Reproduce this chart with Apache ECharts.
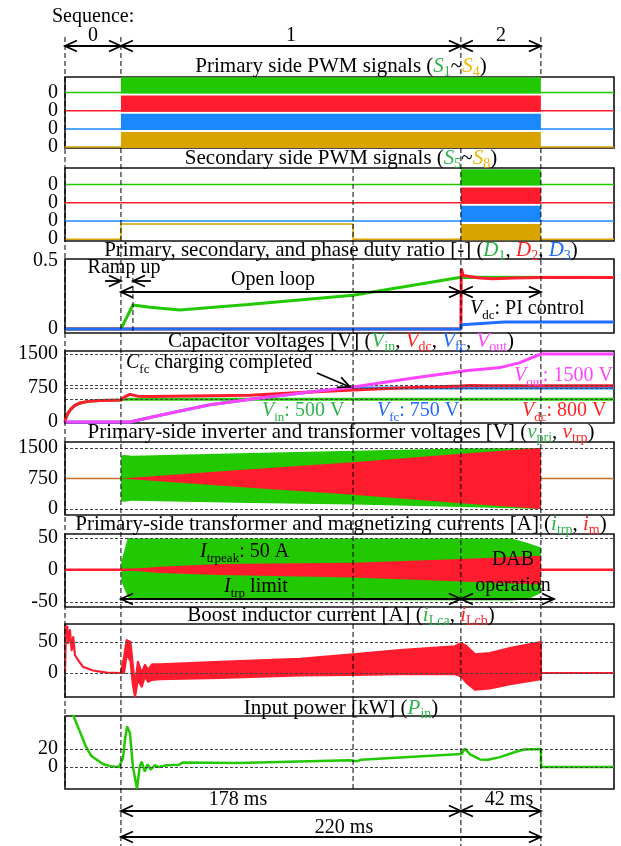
<!DOCTYPE html>
<html><head><meta charset="utf-8">
<script src="https://cdn.jsdelivr.net/npm/echarts@6/dist/echarts.min.js"></script>
<style>html,body{margin:0;padding:0;background:#fff}#c{width:621px;height:846px}</style>
</head><body><div id="c"></div>
<script>
// ---------------- time marks (ms) ----------------
const T_END = 287.6, T1 = 29.3, TC = 150.9, T2 = 207.4, T3 = 249.3;

// ---------------- panel 1 & 2 : PWM signals ----------------
const pwmLevels = [3, 2, 1, 0];          // zero lines of S1..S4 (and S5..S8)
const pwmHigh = 0.83;
const priOn = [T1, T3];
const secOn = [T2, T3];
const s8Time = [0, T1, T1, TC, TC, T_END];
const s8Val  = [0, 0, 0.83, 0.83, 0, 0];

// ---------------- panel 3 : duty ratios ----------------
const d1Time = [0, 29.3, 35.6, 44.5, 60.2, 95.9, 150.9, 207.4, 287.6];
const d1Val  = [0, 0, 0.174, 0.158, 0.138, 0.178, 0.246, 0.377, 0.375];
const d2Time = [0, 207.4, 207.6, 208.6, 212, 217.4, 224, 235, 249.3, 287.6];
const d2Val  = [0, 0, 0.44, 0.39, 0.383, 0.372, 0.366, 0.372, 0.375, 0.375];
const d3Time = [0, 207.4, 207.6, 212, 220, 230, 287.6];
const d3Val  = [0, 0, 0.03, 0.034, 0.042, 0.05, 0.05];

// ---------------- panel 4 : capacitor voltages ----------------
const vinTime = [0, 0.5, 1.5, 3, 5, 8, 12, 18.3, 24, 29.3, 31, 287.6];
const vinVal  = [0, 90, 190, 280, 360, 420, 455, 475, 482, 485, 500, 500];
const vdcTime = [0, 0.5, 1.5, 3, 5, 8, 12, 18.3, 24, 29.3, 31.5, 34, 38, 45, 96.9, 123.1, 150.9, 175.5, 207.4, 212, 220, 287.6];
const vdcVal  = [0, 90, 190, 280, 360, 420, 455, 475, 482, 485, 560, 610, 570, 560, 590, 650, 705, 750, 795, 805, 800, 800];
const vfcTime = [0, 34, 49.8, 75.9, 102.1, 128.3, 149.3, 152, 287.6];
const vfcVal  = [0, 0, 150, 380, 530, 660, 745, 752, 752];
const voutTime = [0, 34, 49.8, 75.9, 102.1, 128.3, 149.3, 180.7, 212.2, 217.4, 227.9, 238.3, 249.3, 287.6];
const voutVal  = [0, 0, 150, 380, 530, 660, 760, 960, 1140, 1160, 1200, 1310, 1500, 1500];

// ---------------- panel 5 : inverter / transformer voltages (envelopes) ----------------
const idleTime = [0, 287.6];
const idleVal  = [750, 750];
const vpriTime = [29.3, 29.4, 31, 35, 96.9, 150.9, 207.4, 249.3, 249.35];
const vpriLo   = [750, 190, 175, 200, 150, 110, 50, 0, 750];
const vpriHi   = [750, 1310, 1330, 1310, 1380, 1430, 1490, 1500, 750];
const vtrpTime = [29.3, 96.9, 150.9, 207.4, 249.3, 249.35];
const vtrpLo   = [750, 520, 350, 143, 0, 750];
const vtrpHi   = [750, 980, 1150, 1357, 1500, 750];

// ---------------- panel 6 : transformer / magnetizing currents (envelopes) ----------------
const itrpTime = [29.5, 32.9, 35.0, 234.0, 242.5, 249.3, 249.35];
const itrpLo   = [-18, -42, -47, -48, -46, -36, 0];
const itrpHi   = [13, 50, 49, 49, 42, 35, 0];
const imTime = [29.5, 49.8, 81.2, 150.9, 207.4, 249.3, 249.35];
const imLo   = [0, -5, -8, -12, -18, -23, 0];
const imHi   = [0, 5, 9, 11, 17, 22, 0];
const imZeroTime = [0, 287.6];
const imZeroVal  = [0, 0];

// ---------------- panel 7 : boost inductor current (envelope) ----------------
const iLTime = [0, 0.5, 1.2, 1.7, 2.6, 3.5, 4.3, 5.2, 6.8, 9.4, 14.7, 21.8, 29.3,
  30.9, 32.3, 34.3, 35.6, 36.7, 38.2, 40.2, 41.9, 43.5, 45.6, 49.8, 81.2, 123.1,
  150.9, 175.5, 204.3, 207.4, 210.1, 214.8, 222.6, 233.1, 249.3, 249.35, 287.6];
const iLLo = [0, 75, 75, 48, 69, 37, 58, 29, 21, 10, 4, 0.5, 0,
  0, 30, 20, -20, -38, -10, -22, -5, -14, -11, -10, -8, -4,
  -3, -2, -2, -5, -15, -27, -25, -18, -10, 0, 0];
const iLHi = [0, 75, 75, 48, 69, 37, 58, 29, 21, 10, 4, 0.5, 0,
  25, 53, 50, 10, -20, 18, 0, 13, 5, 14, 14, 18, 23,
  30, 37, 43, 48, 44, 30, 32, 40, 50, 0, 0];

// ---------------- panel 8 : input power ----------------
const pinTime = [0, 3.4, 7.5, 10.6, 13.8, 19.9, 23.6, 28.3, 29.3, 30.4, 31.4, 32.5, 34.0, 35.6, 37.7, 39.1,
  40.2, 41.8, 43.3, 44.9, 47.0, 49.1, 53.3, 59.5, 61.6, 62.6, 90.6, 149.3, 153.0, 155.0, 207.7, 209.5,
  212.2, 217.4, 221.6, 227.9, 236.2, 240.4, 249.3, 249.4, 287.6];
const pinVal = [90, 62, 41, 24.4, 12.2, 3.3, 1, 0, 0, 10, 30, 45, 38, 0, -24, 0,
  6, -5, 3, -3, 2, 0, 2, 2.5, 5, 3, 4.5, 7.5, 6.5, 8, 14.5, 20.5,
  14, 8.5, 8, 11, 17, 19.5, 20, 0, 0];

// ---------------- tick labels per panel ----------------
const tickP1 = [0, 1, 2, 3];
const tickP2 = [0, 1, 2, 3];
const tickP3 = [0, 0.5];
const tickP4 = [0, 750, 1500];
const tickP5 = [0, 750, 1500];
const tickP6 = [-50, 0, 50];
const tickP7 = [0, 50];
const tickP8 = [0, 20];

// ---------------- annotation geometry (x in ms, y in page px) ----------------
const arrowSegs = [
  [0, 46, T1, 46, 1, 1], [T1, 46, T2, 46, 1, 1], [T2, 46, T3, 46, 1, 1],
  [21.0, 281, T1, 281, 0, 1], [45.0, 281, 35.6, 281, 0, 1],
  [T1, 292, T2, 292, 1, 1], [T2, 292, T3, 292, 1, 1],
  [132.0, 373, 149.3, 387, 0, 1],
  [T1, 599, T2, 599, 1, 1], [T2, 599, 256.2, 599, 1, 1],
  [T1, 811, T2, 811, 1, 1], [T2, 811, T3, 811, 1, 1],
  [T1, 837, T3, 837, 1, 1]
];
const dashSegs = [
  [0, 37, 789], [T1, 37, 77], [T1, 148, 846], [T2, 37, 77], [T2, 148, 846],
  [T3, 37, 77], [T3, 148, 846], [35.6, 270, 333], [TC, 168, 789]
];

// ================= styling / layout =================
const F = 'Liberation Serif';
const FS = 20;
const TFS = 21;
const COL = {g: '#22C800', r: '#FF1C2E', b: '#1C88FF', o: '#D9A300', m: '#FF44FF', idle: '#C8702C'};
const TXT = {g: '#2DB34A', r: '#FF2424', b: '#2368FF', o: '#F2B600', m: '#FF44FF', k: '#000'};

const panels = [
  {top: 77,  h: 71, min: -0.05, max: 3.85, labels: tickP1, fmt: () => '0', refs: []},
  {top: 168, h: 73, min: -0.1,  max: 3.9,  labels: tickP2, fmt: () => '0', refs: []},
  {top: 259, h: 74, min: -0.03, max: 0.51, labels: tickP3, refs: []},
  {top: 351, h: 72, min: -22,   max: 1566, labels: tickP4, refs: [500, 750, 800, 1500]},
  {top: 442, h: 73, min: -148,  max: 1648, labels: tickP5, refs: [0, 1500]},
  {top: 534, h: 73, min: -58,   max: 56,   labels: tickP6, refs: [-50, 0, 50]},
  {top: 624, h: 73, min: -38.7, max: 79,   labels: tickP7, refs: [0, 50]},
  {top: 716, h: 73, min: -24.4, max: 56.7, labels: tickP8, refs: [0, 20]}
];

const grid = panels.map(p => ({left: 65, right: 7, top: p.top, height: p.h, show: true,
  borderColor: '#111', borderWidth: 1.6, backgroundColor: 'transparent', outerBoundsMode: 'none'}));
grid.push({left: 65, right: 7, top: 0, bottom: 0, show: false, outerBoundsMode: 'none'});

const xAxis = grid.map((g, i) => ({type: 'value', gridIndex: i, min: 0, max: T_END, show: false}));
const yAxis = panels.map((p, i) => ({
  type: 'value', gridIndex: i, min: p.min, max: p.max, show: false,
  axisLine: {show: false}, axisTick: {show: false}, splitLine: {show: false}, axisLabel: {show: false}
}));
yAxis.push({type: 'value', gridIndex: 8, min: 0, max: 846, inverse: true, show: false});

const zip = (t, v) => t.map((x, i) => [x, v[i]]);
function line(gi, t, v, color, width, z) {
  return {type: 'line', xAxisIndex: gi, yAxisIndex: gi, data: zip(t, v), symbol: 'none', showSymbol: false,
    lineStyle: {color, width}, itemStyle: {color}, z: z || 2, silent: true, animation: false,
    emphasis: {disabled: true}};
}
// filled envelope between lo and hi, drawn through the axes' scales
function band(gi, t, lo, hi, color, lw, z) {
  return {type: 'custom', xAxisIndex: gi, yAxisIndex: gi, data: [[t[0], lo[0]]], silent: true,
    animation: false, clip: true, z,
    renderItem: (params, api) => {
      const pts = [];
      t.forEach((x, i) => pts.push(api.coord([x, hi[i]])));
      for (let i = t.length - 1; i >= 0; i--) pts.push(api.coord([t[i], lo[i]]));
      const cs = params.coordSys;
      return {type: 'polygon', shape: {points: pts},
        clipPath: {type: 'rect', shape: {x: cs.x, y: cs.y, width: cs.width, height: cs.height}},
        style: {fill: color, stroke: lw ? color : null, lineWidth: lw || 0, lineJoin: 'round'}};
    }};
}
// tick labels placed through the y scale of each panel
function ticks(gi, vals, fmt) {
  return {type: 'custom', xAxisIndex: gi, yAxisIndex: gi, data: vals.map(v => [0, v]), silent: true,
    animation: false, clip: false, z: 30, encode: {x: 0, y: 1},
    renderItem: (params, api) => {
      const v = api.value(1);
      const p = api.coord([0, v]);
      return {type: 'text', x: p[0] - 7, y: p[1],
        style: {text: fmt ? fmt(v) : String(v), font: FS + 'px "' + F + '"', fill: '#000',
          align: 'right', verticalAlign: 'middle', textAlign: 'right', textVerticalAlign: 'middle'}};
    }};
}
function refs(gi, vals) {
  return {type: 'line', xAxisIndex: gi, yAxisIndex: gi, data: [[0, vals[0]]], symbol: 'none',
    lineStyle: {opacity: 0}, silent: true, animation: false, z: 1,
    markLine: {silent: true, symbol: 'none', animation: false, label: {show: false},
      lineStyle: {type: [3, 2], color: '#444', width: 1}, data: vals.map(v => ({yAxis: v}))}};
}
function pwmBand(gi, lvl, on, color) {
  const s = line(gi, [0, T_END], [lvl, lvl], color, 1.5, 2);
  s.markArea = {silent: true, animation: false, label: {show: false},
    itemStyle: {color, opacity: 1},
    data: [[{xAxis: on[0], yAxis: lvl - 0.06}, {xAxis: on[1], yAxis: lvl + pwmHigh}]]};
  return s;
}

const series = [];
const keys = ['g', 'r', 'b', 'o'];
// panel 1
pwmLevels.forEach((lvl, k) => series.push(pwmBand(0, lvl, priOn, COL[keys[k]])));
// panel 2
pwmLevels.slice(0, 3).forEach((lvl, k) => series.push(pwmBand(1, lvl, secOn, COL[keys[k]])));
const s8 = line(1, s8Time, s8Val, COL.o, 1.5, 2);
s8.markArea = {silent: true, animation: false, label: {show: false}, itemStyle: {color: COL.o, opacity: 1},
  data: [[{xAxis: secOn[0], yAxis: -0.06}, {xAxis: secOn[1], yAxis: pwmHigh}]]};
series.push(s8);
// panel 3
series.push(line(2, d1Time, d1Val, COL.g, 3, 2));
series.push(line(2, d2Time, d2Val, COL.r, 3, 3));
series.push(line(2, d3Time, d3Val, '#1E6EFF', 3, 4));
// panel 4
series.push(refs(3, panels[3].refs));
series.push(line(3, vinTime, vinVal, COL.g, 3, 2));
series.push(line(3, vfcTime, vfcVal, COL.b, 3, 3));
series.push(line(3, vdcTime, vdcVal, COL.r, 3, 4));
series.push(line(3, voutTime, voutVal, COL.m, 3, 5));
// panel 5
series.push(refs(4, panels[4].refs));
series.push(line(4, idleTime, idleVal, COL.idle, 1.3, 2));
series.push(band(4, vpriTime, vpriLo, vpriHi, COL.g, 0, 3));
series.push(band(4, vtrpTime, vtrpLo, vtrpHi, COL.r, 0, 4));
// panel 6
series.push(refs(5, panels[5].refs));
series.push(band(5, itrpTime, itrpLo, itrpHi, COL.g, 0, 3));
series.push(band(5, imTime, imLo, imHi, COL.r, 0, 4));
series.push(line(5, imZeroTime, imZeroVal, COL.r, 2.5, 5));
// panel 7
series.push(refs(6, panels[6].refs));
series.push(band(6, iLTime, iLLo, iLHi, COL.r, 2.2, 3));
// panel 8
series.push(refs(7, panels[7].refs));
series.push(line(7, pinTime, pinVal, COL.g, 2.5, 3));
// tick labels
panels.forEach((p, i) => series.push(ticks(i, p.labels, p.fmt)));

// overlay: dashed guide lines and dimension arrows
series.push({type: 'custom', xAxisIndex: 8, yAxisIndex: 8, data: dashSegs, silent: true, animation: false, z: 20,
  encode: {x: 0, y: [1, 2]},
  renderItem: (params, api) => {
    const a = api.coord([api.value(0), api.value(1)]);
    const b = api.coord([api.value(0), api.value(2)]);
    return {type: 'line', shape: {x1: a[0], y1: a[1], x2: b[0], y2: b[1]},
      style: {stroke: '#000', lineWidth: 1, lineDash: [5, 3]}};
  }});
series.push({type: 'custom', xAxisIndex: 8, yAxisIndex: 8, data: arrowSegs, silent: true, animation: false, z: 21,
  encode: {x: [0, 2], y: [1, 3]},
  renderItem: (params, api) => {
    const p1 = api.coord([api.value(0), api.value(1)]);
    const p2 = api.coord([api.value(2), api.value(3)]);
    const dx = p2[0] - p1[0], dy = p2[1] - p1[1], L = Math.hypot(dx, dy);
    const ux = dx / L, uy = dy / L, nx = -uy, ny = ux, HL = 12, HW = 5.5;
    const st = {stroke: '#000', lineWidth: 1.8, fill: null};
    const ch = [{type: 'line', shape: {x1: p1[0], y1: p1[1], x2: p2[0], y2: p2[1]}, style: st}];
    if (api.value(5)) ch.push({type: 'polyline', shape: {points: [
      [p2[0] - ux * HL + nx * HW, p2[1] - uy * HL + ny * HW], [p2[0], p2[1]],
      [p2[0] - ux * HL - nx * HW, p2[1] - uy * HL - ny * HW]]}, style: st});
    if (api.value(4)) ch.push({type: 'polyline', shape: {points: [
      [p1[0] + ux * HL + nx * HW, p1[1] + uy * HL + ny * HW], [p1[0], p1[1]],
      [p1[0] + ux * HL - nx * HW, p1[1] + uy * HL - ny * HW]]}, style: st});
    return {type: 'group', children: ch};
  }});

// ---------------- texts ----------------
function makeRich(size) {
  const mk = (fill, italic) => ({fontSize: size, fontFamily: F, lineHeight: Math.round(size * 1.3), fill, fontStyle: italic ? 'italic' : 'normal'});
  const sub = fill => ({fontSize: Math.round(size * 0.65), fontFamily: F, lineHeight: Math.round(size * 0.65), verticalAlign: 'bottom', fill});
  return {
    n: mk('#000'), i: mk('#000', 1), s: sub('#000'),
    g: mk(TXT.g), ig: mk(TXT.g, 1), sg: sub(TXT.g),
    r: mk(TXT.r), ir: mk(TXT.r, 1), sr: sub(TXT.r),
    b: mk(TXT.b), ib: mk(TXT.b, 1), sb: sub(TXT.b),
    m: mk(TXT.m), im: mk(TXT.m, 1), sm: sub(TXT.m),
    io: mk(TXT.o, 1), so: sub(TXT.o)
  };
}
const RICH = makeRich(FS), RICH_T = makeRich(TFS);
function txt(x, y, text, align, title) {
  return {type: 'text', x, y, z: 100, silent: true,
    style: {text, rich: title ? RICH_T : RICH, font: (title ? TFS : FS) + 'px "' + F + '"', fill: '#000',
      align: align || 'left', textAlign: align || 'left', verticalAlign: 'middle', textVerticalAlign: 'middle'}};
}
const PX = 341;
const texts = [
  txt(52, 17, '{n|Sequence:}'),
  txt(93, 36, '{n|0}', 'center'), txt(291, 36, '{n|1}', 'center'), txt(501, 36, '{n|2}', 'center'),
  txt(PX, 66, '{n|Primary side PWM signals (}{ig|S}{sg|1}{n|~}{io|S}{so|4}{n|)}', 'center', 1),
  txt(PX, 158, '{n|Secondary side PWM signals (}{ig|S}{sg|5}{n|~}{io|S}{so|8}{n|)}', 'center', 1),
  txt(PX, 250, '{n|Primary, secondary, and phase duty ratio [-] (}{ig|D}{sg|1}{n|, }{ir|D}{sr|2}{n|, }{ib|D}{sb|3}{n|)}', 'center', 1),
  txt(PX, 341, '{n|Capacitor voltages [V] (}{ig|V}{sg|in}{n|, }{ir|V}{sr|dc}{n|, }{ib|V}{sb|fc}{n|, }{im|V}{sm|out}{n|)}', 'center', 1),
  txt(PX, 432, '{n|Primary-side inverter and transformer voltages [V] (}{ig|v}{sg|pri}{n|, }{ir|v}{sr|trp}{n|)}', 'center', 1),
  txt(PX, 524, '{n|Primary-side transformer and magnetizing currents [A] (}{ig|i}{sg|trp}{n|, }{ir|i}{sr|m}{n|)}', 'center', 1),
  txt(PX, 615, '{n|Boost inductor current [A] (}{ig|i}{sg|Lca}{n|, }{ir|i}{sr|Lcb}{n|)}', 'center', 1),
  txt(PX, 708, '{n|Input power [kW] (}{ig|P}{sg|in}{n|)}', 'center', 1),
  txt(124, 268, '{n|Ramp up}', 'center'),
  txt(273, 280, '{n|Open loop}', 'center'),
  txt(470, 309, '{i|V}{s|dc}{n|: PI control}'),
  txt(126, 363, '{i|C}{s|fc}{n| charging completed}'),
  txt(514, 376, '{im|V}{sm|out}{m|: 1500 V}'),
  txt(262, 411, '{ig|V}{sg|in}{g|: 500 V}'),
  txt(377, 411, '{ib|V}{sb|fc}{b|: 750 V}'),
  txt(522, 411, '{ir|V}{sr|dc}{r|: 800 V}'),
  txt(200, 552, '{i|I}{s|trpeak}{n|: 50 A}'),
  txt(513, 560, '{n|DAB}', 'center'),
  txt(513, 586, '{n|operation}', 'center'),
  txt(224, 587, '{i|I}{s|trp}{n| limit}'),
  txt(238, 800, '{n|178 ms}', 'center'),
  txt(509, 800, '{n|42 ms}', 'center'),
  txt(344, 828, '{n|220 ms}', 'center')
];

const chart = echarts.init(document.getElementById('c'), null, {renderer: 'canvas', width: 621, height: 846});
chart.setOption({
  animation: false,
  backgroundColor: '#fff',
  grid, xAxis, yAxis, series,
  graphic: {elements: texts}
});
</script>
</body></html>
